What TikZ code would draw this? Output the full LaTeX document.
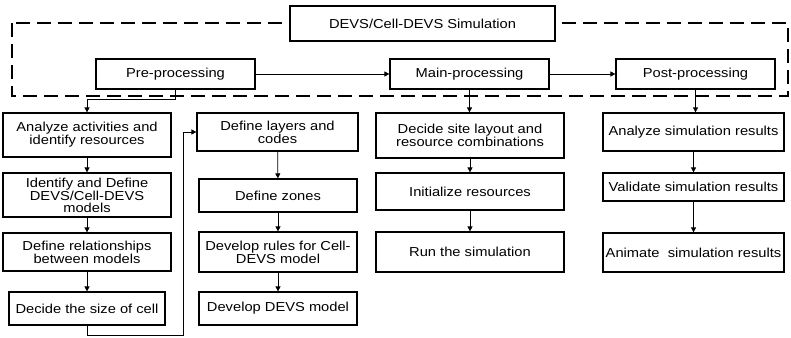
\documentclass[tikz,border=0pt]{standalone}
\usepackage{fontspec}
\setmainfont{Liberation Sans}[FakeStretch=1.13]
\usetikzlibrary{arrows.meta}
\begin{document}
\begin{tikzpicture}[x=1pt,y=-1pt,
  box/.style={draw,line width=1.2pt,fill=white,inner sep=0pt,align=center,
    font=\fontsize{13}{11.7}\selectfont},
  conn/.style={line width=0.7pt,-{Triangle[length=5pt,width=5pt]}},
  plain/.style={line width=0.7pt}]
\useasboundingbox (0,0) rectangle (791,337);
% dashed frame
\draw[line width=1.4pt,dash pattern=on 14pt off 7pt] (12,23) rectangle (788,96);
% top
\node[box,minimum width=265pt,minimum height=35pt] (title) at (422.5,23.5) {DEVS/Cell-DEVS Simulation};
\node[box,minimum width=159pt,minimum height=30pt] (pre) at (175.5,74) {Pre-processing};
\node[box,minimum width=159pt,minimum height=30pt] (main) at (469.5,74) {Main-processing};
\node[box,minimum width=159pt,minimum height=30pt] (post) at (695.5,74) {Post-processing};
% column 1
\node[box,minimum width=168pt,minimum height=44pt] (a1) at (87,135) {Analyze activities and\\identify resources};
\node[box,minimum width=168pt,minimum height=44pt] (a2) at (87,195) {Identify and Define\\DEVS/Cell-DEVS\\models};
\node[box,minimum width=168pt,minimum height=38pt] (a3) at (87,252) {Define relationships\\between models};
\node[box,minimum width=156pt,minimum height=33pt] (a4) at (87,308.5) {Decide the size of cell};
% column 2
\node[box,minimum width=161pt,minimum height=38pt] (b1) at (277.5,132) {Define layers and\\codes};
\node[box,minimum width=158pt,minimum height=33pt] (b2) at (278,195.5) {Define zones};
\node[box,minimum width=158pt,minimum height=40pt] (b3) at (278,252) {Develop rules for Cell-\\DEVS model};
\node[box,minimum width=158pt,minimum height=33pt] (b4) at (278,308.5) {Develop DEVS model};
% column 3
\node[box,minimum width=188pt,minimum height=45pt] (c1) at (470,135.5) {Decide site layout and\\resource combinations};
\node[box,minimum width=188pt,minimum height=37pt] (c2) at (470,191.5) {Initialize resources};
\node[box,minimum width=188pt,minimum height=40pt] (c3) at (470,252) {Run the simulation};
% column 4
\node[box,minimum width=181pt,minimum height=38pt] (d1) at (693.5,132) {Analyze simulation results};
\node[box,minimum width=181pt,minimum height=28pt] (d2) at (693.5,187) {Validate simulation results};
\node[box,minimum width=181pt,minimum height=39pt] (d3) at (693.5,252.5) {Animate\ \ simulation results};
% top connectors
\draw[conn] (pre.east) -- (main.west);
\draw[conn] (main.east) -- (post.west);
\coordinate (pbend) at (175.5,99);
\draw[plain] (pre.south) -- (pbend);
\draw[conn] (pbend) -| (a1.north);
\draw[conn] (main.south) -- (main.south |- c1.north);
\draw[conn] (post.south) -- (post.south |- d1.north);
% column connectors
\draw[conn] (a1) -- (a2);
\draw[conn] (a2) -- (a3);
\draw[conn] (a3) -- (a4);
\draw[conn] (b1) -- (b2);
\draw[conn] (b2) -- (b3);
\draw[conn] (b3) -- (b4);
\draw[conn] (c1) -- (c2);
\draw[conn] (c2) -- (c3);
\draw[conn] (d1) -- (d2);
\draw[conn] (d2) -- (d3);
% loop to column 2
\coordinate (lb) at (183,335.5);
\draw[conn] (a4.south) |- (lb) |- (b1.west);
\end{tikzpicture}
\end{document}
